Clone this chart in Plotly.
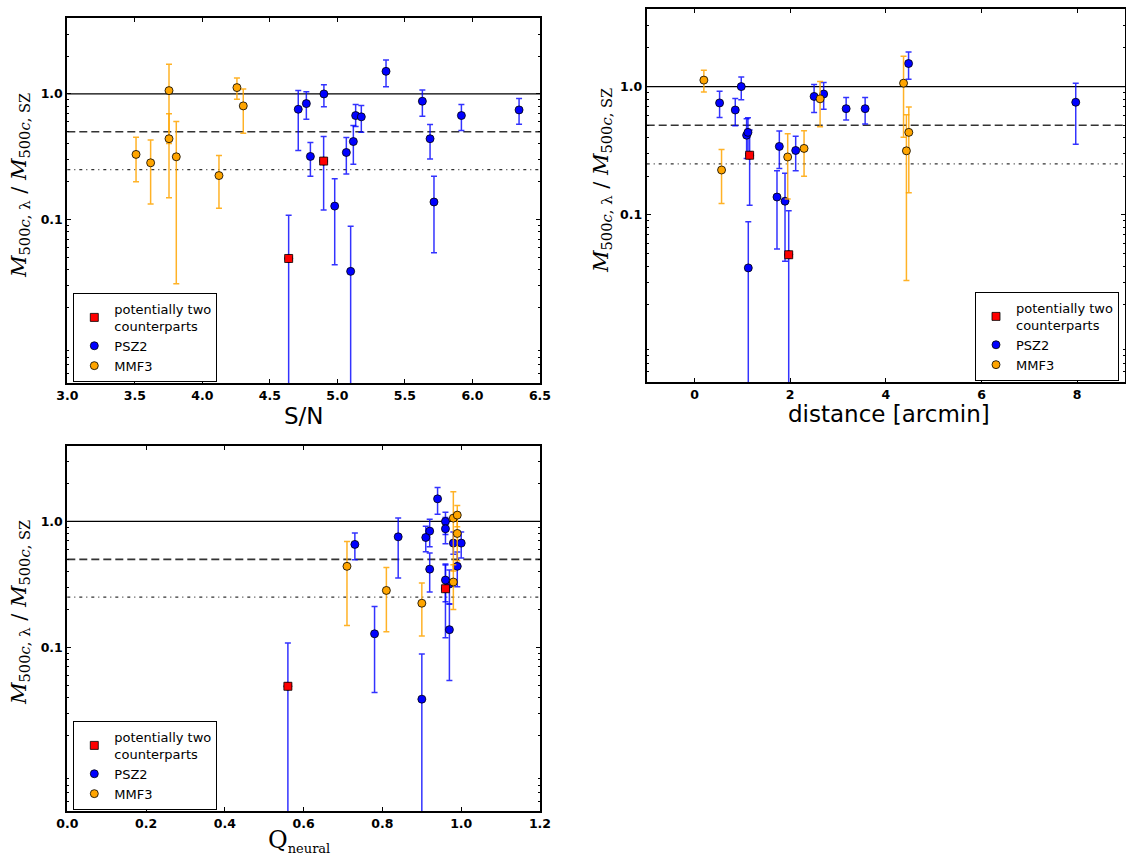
import math
import plotly.graph_objects as go

# ---------------- data ----------------
# PSZ2 clusters (last two entries are the "potentially two counterparts" ones)
psz2_sn = [4.71, 4.77, 4.80, 4.90, 4.98, 5.066, 5.098, 5.118, 5.135, 5.177,
           5.36, 5.629, 5.686, 5.715, 5.918, 6.345, 4.639, 4.898]
psz2_dist = [7.97, 2.50, 2.115, 0.977, 1.892, 1.773, 1.124, 1.089, 3.17, 0.852,
             4.475, 2.70, 1.117, 1.724, 3.567, 0.524, 1.969, 1.152]
psz2_q = [0.84, 0.92, 0.97, 0.96, 0.78, 0.96, 0.90, 0.92, 0.98, 0.73,
          0.94, 0.96, 0.99, 0.97, 1.00, 0.91, 0.56, 0.96]
psz2_ratio = [0.755, 0.838, 0.318, 1.0, 0.128, 0.342, 0.0387, 0.418, 0.673, 0.657,
              1.513, 0.875, 0.44, 0.138, 0.673, 0.746, 0.049, 0.292]
psz2_hi = [1.063, 1.04, 0.411, 1.186, 0.211, 0.45, 0.0886, 0.561, 0.823, 0.808,
           1.86, 1.076, 0.571, 0.221, 0.823, 0.918, 0.108, 0.459]
psz2_lo = [0.355, 0.629, 0.221, 0.789, 0.0437, 0.230, 0.0, 0.275, 0.55, 0.496,
           1.14, 0.665, 0.303, 0.0544, 0.512, 0.574, 0.0, 0.119]
two_cp_index = [16, 17]

# MMF3 clusters
mmf3_sn = [3.509, 3.617, 3.753, 3.753, 3.807, 4.123, 4.256, 4.303]
mmf3_dist = [2.29, 1.948, 4.37, 4.48, 4.43, 0.565, 0.195, 2.625]
mmf3_q = [0.98, 0.81, 0.98, 0.71, None, 0.90, 0.99, 0.99]
mmf3_ratio = [0.330, 0.283, 1.063, 0.44, 0.316, 0.224, 1.123, 0.803]
mmf3_hi = [0.453, 0.43, 1.72, 0.694, 0.603, 0.324, 1.34, 1.096]
mmf3_lo = [0.200, 0.133, 0.403, 0.149, 0.0309, 0.123, 0.907, 0.487]

ref_levels = [1.0, 0.5, 0.25]
ref_styles = [("solid", "black", 1.2), ("8px,4px", "#333333", 1.6), ("3px,4px,1px,4px", "#333333", 1.2)]

y_range = [0.005, 4.0]
y_major = [0.1, 1.0]
y_major_text = ["0.1", "1.0"]
y_minor = [m * 10 ** e for e in (-3, -2, -1, 0) for m in range(2, 10)]
y_minor = [v for v in y_minor if y_range[0] < v < y_range[1]]

W, H = 1126, 856

# ---------------- figure ----------------
fig = go.Figure()

up_psz = [h - r for h, r in zip(psz2_hi, psz2_ratio)]
dn_psz = [r - l for r, l in zip(psz2_ratio, psz2_lo)]
up_mmf = [h - r for h, r in zip(mmf3_hi, mmf3_ratio)]
dn_mmf = [r - l for r, l in zip(mmf3_ratio, mmf3_lo)]

panels = [
    (psz2_sn, mmf3_sn, "x", "y", "legend"),
    (psz2_dist, mmf3_dist, "x2", "y2", "legend2"),
    (psz2_q, mmf3_q, "x3", "y3", "legend3"),
]

for px, mx, xa, ya, lg in panels:
    fig.add_trace(go.Scatter(
        x=px, y=psz2_ratio, mode="markers", name="PSZ2",
        xaxis=xa, yaxis=ya, legend=lg, legendrank=2,
        marker=dict(color="#0000ff", size=8, line=dict(color="black", width=0.8)),
        error_y=dict(type="data", symmetric=False, array=up_psz, arrayminus=dn_psz,
                     color="rgba(0,0,255,0.8)", thickness=1.5, width=3),
    ))
    fig.add_trace(go.Scatter(
        x=mx, y=mmf3_ratio, mode="markers", name="MMF3",
        xaxis=xa, yaxis=ya, legend=lg, legendrank=3,
        marker=dict(color="#ffa500", size=8, line=dict(color="black", width=0.8)),
        error_y=dict(type="data", symmetric=False, array=up_mmf, arrayminus=dn_mmf,
                     color="rgba(255,165,0,0.85)", thickness=1.5, width=3),
    ))
    fig.add_trace(go.Scatter(
        x=[px[i] for i in two_cp_index], y=[psz2_ratio[i] for i in two_cp_index],
        mode="markers", name="potentially two<br>counterparts",
        xaxis=xa, yaxis=ya, legend=lg, legendrank=1,
        marker=dict(color="#ff0000", size=8, symbol="square",
                    line=dict(color="black", width=0.8)),
    ))
    for lev, (dash, col, lw) in zip(ref_levels, ref_styles):
        fig.add_shape(type="line", xref=f"{xa} domain", yref=ya, x0=0, x1=1,
                      y0=lev, y1=lev, layer="below",
                      line=dict(color=col, width=lw, dash=dash))

# domains in pixels -> paper
def dom_x(a, b):
    return [a / W, b / W]

def dom_y(top, bottom):
    return [1 - bottom / H, 1 - top / H]

tickfont = dict(family="DejaVu Sans", size=12.5, color="black", weight="bold")
common = dict(showline=True, linewidth=2, linecolor="black", mirror="allticks",
              ticks="inside", ticklen=4, tickwidth=1, tickcolor="black",
              showgrid=False, zeroline=False, tickfont=tickfont, automargin=False)

yax = dict(common, type="log", range=[math.log10(y_range[0]), math.log10(y_range[1])],
           tickmode="array", tickvals=y_major, ticktext=y_major_text,
           minor=dict(tickmode="array", tickvals=y_minor, ticks="inside", ticklen=2,
                      tickwidth=1, tickcolor="black"))

fig.update_layout(
    width=W, height=H, margin=dict(l=0, r=0, t=0, b=0, autoexpand=False),
    paper_bgcolor="white", plot_bgcolor="white",
    showlegend=True,
    xaxis=dict(common, domain=dom_x(67.3, 540), range=[3.0, 6.5], dtick=0.5,
               tick0=3.0, tickformat=".1f", anchor="y"),
    yaxis=dict(yax, domain=dom_y(18.3, 383), anchor="x"),
    xaxis2=dict(common, domain=dom_x(646.7, 1125), range=[-1, 9], dtick=2, tick0=0,
                anchor="y2"),
    yaxis2=dict(yax, domain=dom_y(9.3, 382), anchor="x2"),
    xaxis3=dict(common, domain=dom_x(67.3, 540), range=[0.0, 1.2], dtick=0.2,
                tick0=0, tickformat=".1f", anchor="y3"),
    yaxis3=dict(yax, domain=dom_y(445.7, 811), anchor="x3"),
)

legend_common = dict(bgcolor="white", bordercolor="black", borderwidth=1,
                     font=dict(family="DejaVu Sans", size=13, color="black"),
                     tracegroupgap=0, itemwidth=30)
fig.update_layout(
    legend=dict(legend_common, x=73.3 / W, y=1 - 382 / H, xanchor="left", yanchor="bottom"),
    legend2=dict(legend_common, x=1119 / W, y=1 - 381 / H, xanchor="right", yanchor="bottom"),
    legend3=dict(legend_common, x=73.3 / W, y=1 - 810 / H, xanchor="left", yanchor="bottom"),
)

ytitle = "<i>M</i><sub>500<i>c</i>, λ</sub> / <i>M</i><sub>500<i>c</i>, SZ</sub>"
serif = dict(family="DejaVu Serif", size=21, color="black")
sans = dict(family="DejaVu Sans", size=23, color="black")
annots = [
    dict(text=ytitle, x=20 / W, y=1 - 186 / H, textangle=-90, font=serif),
    dict(text=ytitle, x=602 / W, y=1 - 181 / H, textangle=-90, font=serif),
    dict(text=ytitle, x=20 / W, y=1 - 613 / H, textangle=-90, font=serif),
    dict(text="S/N", x=303.6 / W, y=1 - 416 / H, font=sans),
    dict(text="distance [arcmin]", x=889 / W, y=1 - 414 / H, font=sans),
    dict(text="Q<sub><span style='font-size:13px'>neural</span></sub>", x=299 / W, y=1 - 841 / H,
         font=dict(family="DejaVu Serif", size=24, color="black")),
]
for a in annots:
    fig.add_annotation(xref="paper", yref="paper", showarrow=False,
                       xanchor="center", yanchor="middle", **a)

fig.write_html("out.html")
